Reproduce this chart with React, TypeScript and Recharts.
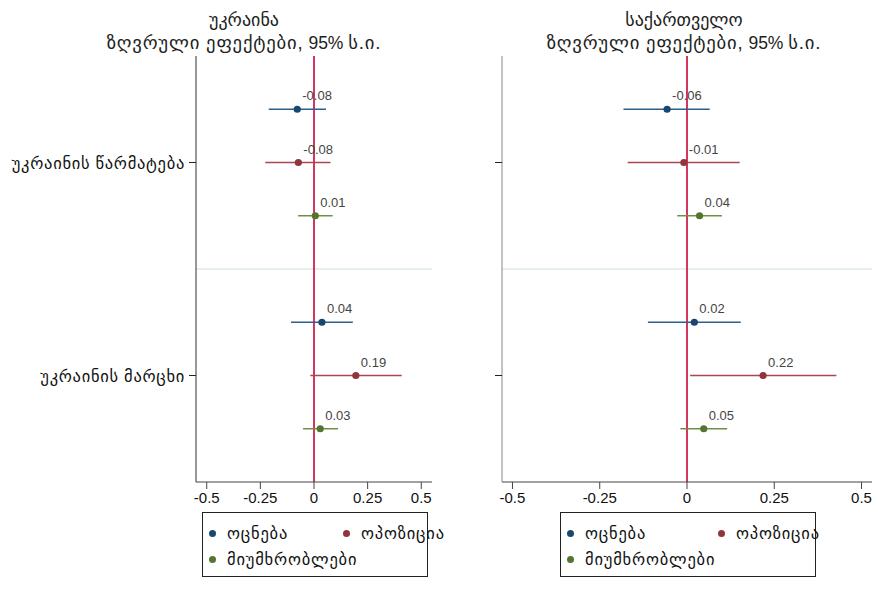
import {
  ErrorBar,
  LabelList,
  ReferenceLine,
  Scatter,
  ScatterChart,
  XAxis,
  YAxis,
} from "recharts";

// categories (top to bottom) and parties
const categories = ["უკრაინის წარმატება", "უკრაინის მარცხი"];
const parties = ["ოცნება", "ოპოზიცია", "მიუმხრობლები"];
const partyColors = ["#1a476f", "#90353b", "#55752f"];
const barColors = ["#2f5f88", "#a8474f", "#6f8f45"];
const xTicks = [-0.5, -0.25, 0, 0.25, 0.5];

// Ukraine panel: estimate / lower / upper per party, per category
const uaEst = [
  [-0.078, 0.037],
  [-0.073, 0.195],
  [0.006, 0.029],
];
const uaLow = [
  [-0.211, -0.107],
  [-0.227, -0.017],
  [-0.074, -0.051],
];
const uaHigh = [
  [0.056, 0.181],
  [0.077, 0.409],
  [0.087, 0.112],
];
const uaLabels = [
  ["-0.08", "0.04"],
  ["-0.08", "0.19"],
  ["0.01", "0.03"],
];

// Georgia panel
const geEst = [
  [-0.057, 0.021],
  [-0.009, 0.218],
  [0.036, 0.048],
];
const geLow = [
  [-0.182, -0.112],
  [-0.17, 0.009],
  [-0.028, -0.019],
];
const geHigh = [
  [0.065, 0.154],
  [0.151, 0.428],
  [0.1, 0.115],
];
const geLabels = [
  ["-0.06", "0.02"],
  ["-0.01", "0.22"],
  ["0.04", "0.05"],
];

const FONT = '"Liberation Sans", "DejaVu Sans", sans-serif';

function buildSeries(est: number[][], low: number[][], high: number[][], labels: string[][]) {
  return parties.map((_, p) =>
    categories.map((_, c) => ({
      x: est[p][c],
      y: c + 0.25 + p * 0.25,
      err: [est[p][c] - low[p][c], high[p][c] - est[p][c]],
      label: labels[p][c],
    }))
  );
}

const Dot = (props: any) => (
  <circle cx={props.cx} cy={props.cy} r={3.6} fill={props.fill} />
);

const ValueLabel = (props: any) => {
  const { x, y, width, height, value } = props;
  const cx = x + width / 2;
  const cy = y + height / 2;
  return (
    <text x={cx + 5} y={cy - 9} fontSize={13} fill="#444" fontFamily={FONT}>
      {value}
    </text>
  );
};

const CatTick = (props: any) => {
  const { x, y, payload, show } = props;
  if (!show) return null;
  return (
    <text
      x={x}
      y={y}
      dy={6}
      textAnchor="end"
      fontSize={16.5}
      fill="#111"
      fontFamily={FONT}
      style={{ letterSpacing: "0.7px" }}
    >
      {categories[Math.round(payload.value - 0.5)]}
    </text>
  );
};

interface PanelProps {
  title: string;
  series: ReturnType<typeof buildSeries>;
  domain: [number, number];
  width: number;
  yAxisWidth: number;
  marginRight: number;
  showCats: boolean;
  leftAxisColor: string;
}

function Panel(p: PanelProps) {
  return (
    <div style={{ position: "relative", width: p.width, height: 596 }}>
      <div
        style={{
          position: "absolute",
          top: 8,
          left: 0,
          width: p.width,
          textAlign: "center",
          fontFamily: FONT,
          color: "#222",
          whiteSpace: "nowrap",
        }}
      >
        <div style={{ fontSize: 18, lineHeight: "24px" }}>{p.title}</div>
        <div style={{ lineHeight: "22px" }}>
          <span style={{ fontSize: 18.7, letterSpacing: "0.8px" }}>
            ზღვრული ეფექტები,
          </span>
          <span style={{ fontSize: 17.5 }}> 95% </span>
          <span style={{ fontSize: 18.7, letterSpacing: "0.8px" }}>ს.ი.</span>
        </div>
      </div>
      <ScatterChart
        width={p.width}
        height={596}
        margin={{ top: 56, right: p.marginRight, bottom: 0, left: 0 }}
        style={{ position: "absolute", top: 0, left: 0 }}
      >
        <XAxis
          type="number"
          dataKey="x"
          domain={p.domain}
          ticks={xTicks}
          allowDataOverflow
          height={114}
          tickSize={7}
          tickMargin={3}
          stroke="#444"
          tick={{ fill: "#111", fontSize: 15, fontFamily: FONT }}
        />
        <YAxis
          type="number"
          dataKey="y"
          domain={[0, 2]}
          reversed
          ticks={[0.5, 1.5]}
          width={p.yAxisWidth}
          tickSize={7}
          tickMargin={4}
          stroke={p.leftAxisColor}
          tickLine={{ stroke: "#222" }}
          tick={<CatTick show={p.showCats} />}
        />
        <ReferenceLine y={1} stroke="#e6eeee" strokeWidth={2} />
        <ReferenceLine x={0} stroke="#d4365f" strokeWidth={2} />
        {p.series.map((data, i) => (
          <Scatter
            key={parties[i]}
            name={parties[i]}
            data={data}
            fill={partyColors[i]}
            shape={Dot}
            isAnimationActive={false}
          >
            <ErrorBar
              dataKey="err"
              direction="x"
              width={0}
              stroke={barColors[i]}
              strokeWidth={1.5}
            />
            <LabelList dataKey="label" content={ValueLabel} />
          </Scatter>
        ))}
      </ScatterChart>
    </div>
  );
}

function LegendBox({ left, width, col2 }: { left: number; width: number; col2: number }) {
  const item = (i: number, x: number, y: number) => (
    <div
      key={i}
      style={{
        position: "absolute",
        left: x,
        top: y,
        display: "flex",
        alignItems: "center",
        fontFamily: FONT,
        fontSize: 16.5,
        letterSpacing: "0.8px",
        color: "#111",
        whiteSpace: "nowrap",
      }}
    >
      <span
        style={{
          width: 7,
          height: 7,
          borderRadius: "50%",
          background: partyColors[i],
          marginRight: 11,
        }}
      />
      {parties[i]}
    </div>
  );
  return (
    <div
      style={{
        position: "absolute",
        left,
        top: 512,
        width,
        height: 65,
        border: "1px solid #222",
        boxSizing: "border-box",
      }}
    >
      {item(0, 6, 11)}
      {item(1, col2, 11)}
      {item(2, 6, 37)}
    </div>
  );
}

export default function App() {
  const ua = buildSeries(uaEst, uaLow, uaHigh, uaLabels);
  const ge = buildSeries(geEst, geLow, geHigh, geLabels);
  return (
    <div
      style={{
        position: "absolute",
        left: 0,
        top: 0,
        width: 878,
        height: 596,
        background: "#fff",
        overflow: "hidden",
      }}
    >
      <div style={{ position: "absolute", left: 0, top: 0 }}>
        <Panel
          title="უკრაინა"
          series={ua}
          domain={[-0.55, 0.55]}
          width={488}
          yAxisWidth={196}
          marginRight={56}
          showCats
          leftAxisColor="#333"
        />
      </div>
      <div style={{ position: "absolute", left: 490, top: 0 }}>
        <Panel
          title="საქართველო"
          series={ge}
          domain={[-0.53, 0.53]}
          width={388}
          yAxisWidth={12}
          marginRight={6}
          showCats={false}
          leftAxisColor="#888"
        />
      </div>
      <LegendBox left={202} width={226} col2={140} />
      <LegendBox left={560} width={256} col2={157} />
    </div>
  );
}
